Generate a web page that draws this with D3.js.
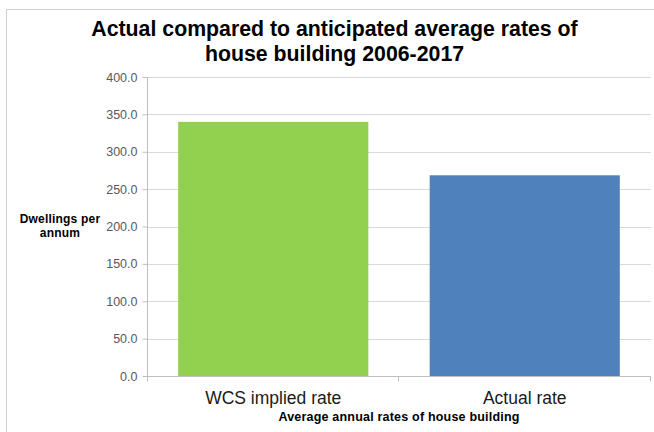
<!DOCTYPE html>
<html>
<head>
<meta charset="utf-8">
<script src="https://cdn.jsdelivr.net/npm/d3@7"></script>
<style>
  html, body { margin: 0; padding: 0; background: #fff; }
  svg { display: block; font-family: Arial, "Liberation Sans", sans-serif; }
</style>
</head>
<body>
<svg id="chart" width="654" height="432"></svg>
<script>
// Average annual dwellings completed, 2006-2017
const categories = ["WCS implied rate", "Actual rate"];
const values = [340, 268.5];
const barColors = ["#92D050", "#4F81BD"];
const yTicks = [0, 50, 100, 150, 200, 250, 300, 350, 400];
const titleLines = ["Actual compared to anticipated average rates of", "house building 2006-2017"];
const yTitleLines = ["Dwellings per", "annum"];
const xTitle = "Average annual rates of house building";

const svg = d3.select("#chart");
const W = 654, H = 432;
const plot = { left: 147, right: 651, top: 77, bottom: 376 };

// chart frame
svg.append("rect")
  .attr("x", 6.5).attr("y", 9.5)
  .attr("width", W + 10).attr("height", H)
  .attr("fill", "#fff").attr("stroke", "#D0D0D0");

const x = d3.scaleBand()
  .domain(categories)
  .range([plot.left, plot.right])
  .paddingInner(0.244)
  .paddingOuter(0.124);

const y = d3.scaleLinear()
  .domain([0, 400])
  .range([plot.bottom, plot.top]);

// gridlines
svg.append("g")
  .selectAll("line")
  .data(yTicks.filter(d => d > 0))
  .join("line")
  .attr("x1", plot.left).attr("x2", plot.right)
  .attr("y1", d => Math.round(y(d)) + 0.5).attr("y2", d => Math.round(y(d)) + 0.5)
  .attr("stroke", "#D9D9D9");

// y axis
const yAxis = svg.append("g")
  .attr("transform", `translate(${plot.left + 0.5},0)`)
  .call(d3.axisLeft(y).tickValues(yTicks).tickFormat(d3.format(".1f")).tickSize(5).tickPadding(5));
yAxis.select(".domain").attr("stroke", "#BFBFBF").attr("d", `M0,${y(400)}V${y(0)}`);
yAxis.selectAll(".tick line").attr("stroke", "#BFBFBF");
yAxis.selectAll(".tick text")
  .attr("fill", "#595959")
  .style("font-size", "12.5px")
  .style("font-family", "Arial, 'Liberation Sans', sans-serif");

// bars
svg.append("g")
  .selectAll("rect")
  .data(categories)
  .join("rect")
  .attr("x", d => x(d))
  .attr("width", x.bandwidth())
  .attr("y", (d, i) => y(values[i]))
  .attr("height", (d, i) => y(0) - y(values[i]))
  .attr("fill", (d, i) => barColors[i]);

// x axis
const xAxisG = svg.append("g").attr("transform", `translate(0,${Math.round(y(0)) + 0.5})`);
xAxisG.append("line")
  .attr("x1", plot.left).attr("x2", plot.right)
  .attr("stroke", "#BFBFBF");
const boundaries = [plot.left, plot.left + x.step(), plot.right - 1];
xAxisG.selectAll("line.sep")
  .data(boundaries)
  .join("line")
  .attr("class", "sep")
  .attr("x1", d => Math.round(d) + 0.5).attr("x2", d => Math.round(d) + 0.5)
  .attr("y1", 0).attr("y2", 5)
  .attr("stroke", "#BFBFBF");
xAxisG.selectAll("text")
  .data(categories)
  .join("text")
  .attr("x", d => x(d) + x.bandwidth() / 2)
  .attr("y", 27)
  .attr("text-anchor", "middle")
  .attr("fill", "#1a1a1a")
  .style("font-size", "17.5px")
  .text(d => d);

// title
svg.append("g")
  .selectAll("text")
  .data(titleLines)
  .join("text")
  .attr("x", 334.5)
  .attr("y", (d, i) => 36 + i * 25)
  .attr("text-anchor", "middle")
  .attr("fill", "#000")
  .style("font-size", "21.3px")
  .style("font-weight", "bold")
  .text(d => d);

// axis titles
svg.append("g")
  .selectAll("text")
  .data(yTitleLines)
  .join("text")
  .attr("x", 60)
  .attr("y", (d, i) => 223 + i * 14)
  .attr("text-anchor", "middle")
  .attr("fill", "#000")
  .style("font-size", "12px")
  .style("font-weight", "bold")
  .style("letter-spacing", "0.2px")
  .text(d => d);

svg.append("text")
  .attr("x", 399)
  .attr("y", 421)
  .attr("text-anchor", "middle")
  .attr("fill", "#000")
  .style("font-size", "12.5px")
  .style("font-weight", "bold")
  .style("letter-spacing", "0.2px")
  .text(xTitle);
</script>
</body>
</html>
